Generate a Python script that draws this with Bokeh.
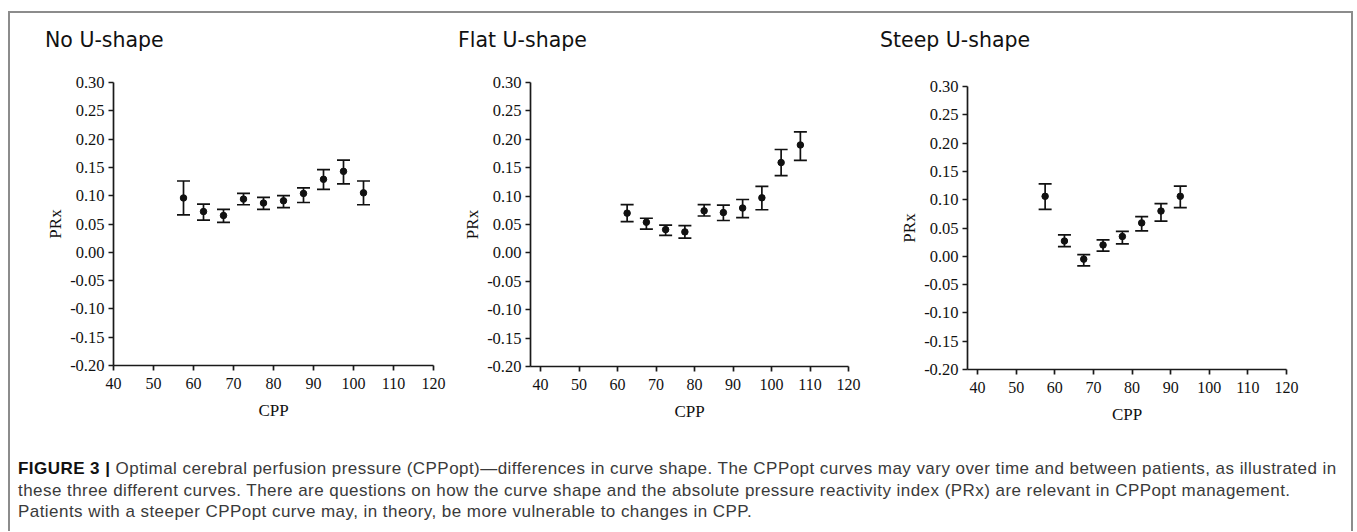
from bokeh.plotting import figure
from bokeh.models import (ColumnDataSource, Whisker, TeeHead, Range1d, FixedTicker,
                          PrintfTickFormatter, Div, Spacer)
from bokeh.layouts import row, column
from bokeh.embed import file_html
from bokeh.resources import INLINE

panel_titles = ["No U-shape", "Flat U-shape", "Steep U-shape"]

cpp_no = [57.5, 62.5, 67.5, 72.5, 77.5, 82.5, 87.5, 92.5, 97.5, 102.5]
prx_no = [0.096, 0.072, 0.065, 0.094, 0.087, 0.091, 0.104, 0.129, 0.143, 0.105]
hi_no = [0.126, 0.085, 0.076, 0.104, 0.097, 0.100, 0.114, 0.146, 0.163, 0.126]
lo_no = [0.066, 0.057, 0.053, 0.084, 0.076, 0.079, 0.088, 0.111, 0.121, 0.084]

cpp_flat = [62.5, 67.5, 72.5, 77.5, 82.5, 87.5, 92.5, 97.5, 102.5, 107.5]
prx_flat = [0.070, 0.054, 0.041, 0.037, 0.074, 0.071, 0.079, 0.097, 0.159, 0.190]
hi_flat = [0.085, 0.061, 0.049, 0.048, 0.085, 0.084, 0.094, 0.117, 0.182, 0.213]
lo_flat = [0.055, 0.042, 0.031, 0.026, 0.065, 0.057, 0.062, 0.076, 0.136, 0.163]

cpp_steep = [57.5, 62.5, 67.5, 72.5, 77.5, 82.5, 87.5, 92.5]
prx_steep = [0.106, 0.027, -0.005, 0.020, 0.035, 0.059, 0.080, 0.106]
hi_steep = [0.128, 0.038, 0.003, 0.029, 0.044, 0.070, 0.093, 0.124]
lo_steep = [0.083, 0.017, -0.017, 0.009, 0.022, 0.045, 0.062, 0.086]

y_ticks = [-0.20, -0.15, -0.10, -0.05, 0.00, 0.05, 0.10, 0.15, 0.20, 0.25, 0.30]
x_ticks = [40, 50, 60, 70, 80, 90, 100, 110, 120]

caption_head = "FIGURE 3 |"
caption_lines = [
    "Optimal cerebral perfusion pressure (CPPopt)\u2014differences in curve shape. The CPPopt curves may vary over time and between patients, as illustrated in",
    "these three different curves. There are questions on how the curve shape and the absolute pressure reactivity index (PRx) are relevant in CPPopt management.",
    "Patients with a steeper CPPopt curve may, in theory, be more vulnerable to changes in CPP.",
]

series = [
    (cpp_no, prx_no, hi_no, lo_no),
    (cpp_flat, prx_flat, hi_flat, lo_flat),
    (cpp_steep, prx_steep, hi_steep, lo_steep),
]

# layout settings per panel
TITLE_H = 40
x_starts = [40, 37.4, 37.4]
frame_w = [320, 318, 319]
frame_h = [283, 284, 283]
mb_left = [103, 75, 87]
mb_right = [22, 32, 65]
mb_top = [29, 29, 33]
mb_bottom = [60, 59, 56]
title_pad = [35, 3, 0]

SERIF = "Liberation Serif"
panels = []
for i in range(3):
    xs, ys, hi, lo = series[i]
    src = ColumnDataSource(dict(x=xs, y=ys, upper=hi, lower=lo))
    p = figure(frame_width=frame_w[i], frame_height=frame_h[i],
               x_range=Range1d(x_starts[i], 120), y_range=Range1d(-0.20, 0.30),
               output_backend="svg", toolbar_location=None,
               min_border_left=mb_left[i], min_border_right=mb_right[i],
               min_border_top=mb_top[i], min_border_bottom=mb_bottom[i])
    p.outline_line_color = None
    p.grid.visible = False
    p.background_fill_color = "white"
    p.border_fill_color = "white"

    p.xaxis.ticker = FixedTicker(ticks=x_ticks)
    p.yaxis.ticker = FixedTicker(ticks=y_ticks)
    p.yaxis.formatter = PrintfTickFormatter(format="%.2f")
    p.xaxis.axis_label = "CPP"
    p.yaxis.axis_label = "PRx"
    for ax in (p.xaxis, p.yaxis):
        ax.axis_line_width = 1.7
        ax.axis_line_color = "#1a1a1a"
        ax.major_tick_line_width = 1.7
        ax.major_tick_line_color = "#1a1a1a"
        ax.major_tick_out = 5
        ax.major_tick_in = 0
        ax.minor_tick_line_color = None
        ax.major_label_text_font = SERIF
        ax.major_label_text_color = "#111111"
        ax.axis_label_text_font = SERIF
        ax.axis_label_text_font_size = "17px"
        ax.axis_label_text_font_style = "normal"
        ax.axis_label_text_color = "#111111"
    p.xaxis.major_label_text_font_size = "16px"
    p.yaxis.major_label_text_font_size = "16.5px"
    p.xaxis.major_label_standoff = 7
    p.yaxis.major_label_standoff = 4
    p.xaxis.axis_label_standoff = 9
    p.yaxis.axis_label_standoff = 2

    w = Whisker(base="x", upper="upper", lower="lower", source=src,
                line_width=1.7, line_color="#111111",
                upper_head=TeeHead(size=13, line_width=1.7, line_color="#111111"),
                lower_head=TeeHead(size=13, line_width=1.7, line_color="#111111"))
    p.add_layout(w)
    p.scatter("x", "y", source=src, size=6.5, color="#111111")

    fig_w = mb_left[i] + frame_w[i] + mb_right[i]
    title = Div(text=panel_titles[i], width=fig_w, height=TITLE_H, margin=0,
                styles={"font-family": "DejaVu Sans, sans-serif", "font-size": "20.5px",
                        "line-height": "24px", "color": "#111111",
                        "padding-left": f"{title_pad[i]}px", "padding-top": "15px",
                        "box-sizing": "border-box", "white-space": "nowrap"})
    panels.append(column(title, p, spacing=0))

caption_html = (f"<span style='font-weight:bold;color:#111'>{caption_head}</span> "
                + caption_lines[0] + "<br>" + caption_lines[1] + "<br>" + caption_lines[2])
cap = Div(text=caption_html, width=1341, height=105, margin=0,
          styles={"font-family": "Liberation Sans, Arial, sans-serif",
                  "font-size": "17px", "line-height": "21.5px", "color": "#3a3a3a",
                  "letter-spacing": "0.45px",
                  "padding-left": "8px", "padding-top": "32px", "white-space": "nowrap",
                  "box-sizing": "border-box"})

boxed = column(row(*panels, spacing=0), cap, spacing=0,
               styles={"border-top": "2px solid #8c8c8c", "border-left": "2px solid #8c8c8c",
                       "border-right": "2px solid #8c8c8c", "background": "white"})
layout = column(Spacer(height=11, width=10),
                row(Spacer(width=8, height=10), boxed, spacing=0), spacing=0)

open("out.html", "w").write(file_html(layout, INLINE))
